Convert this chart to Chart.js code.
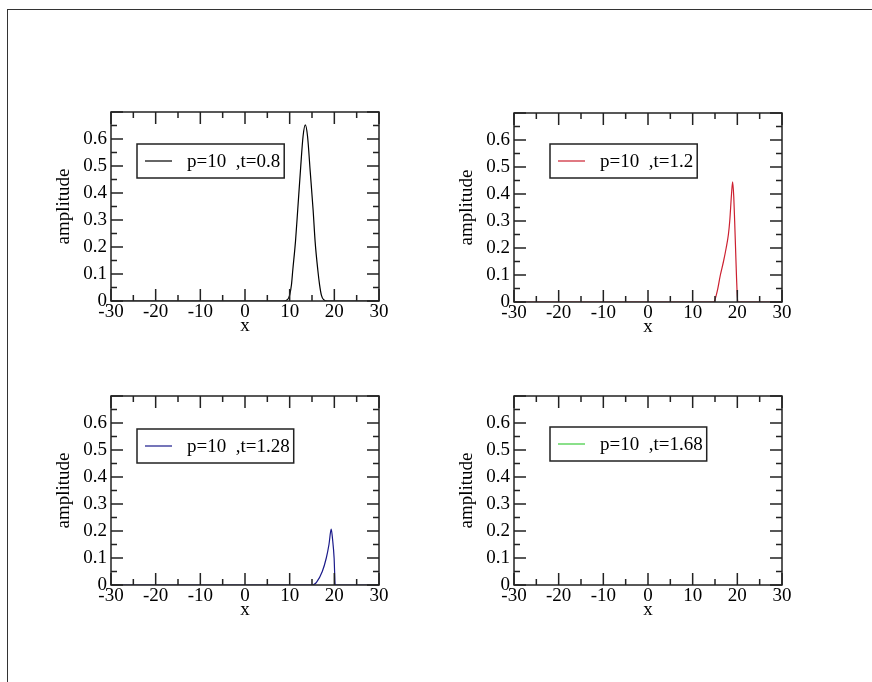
<!DOCTYPE html>
<html>
<head>
<meta charset="utf-8">
<script src="https://cdn.jsdelivr.net/npm/chart.js@4.4.1/dist/chart.umd.min.js"></script>
<style>
  html, body { margin: 0; padding: 0; background: #fff; }
  body { width: 872px; height: 682px; position: relative; overflow: hidden; }
  #frame { position: absolute; left: 7px; top: 9px; width: 900px; height: 700px;
           border-left: 1.5px solid #333; border-top: 1.5px solid #333; }
  canvas { position: absolute; }
</style>
</head>
<body>
<div id="frame"></div>
<canvas id="c1" width="420" height="345" style="left:0px;top:0px"></canvas>
<canvas id="c2" width="420" height="345" style="left:403px;top:1px"></canvas>
<canvas id="c3" width="420" height="345" style="left:0px;top:284px"></canvas>
<canvas id="c4" width="420" height="345" style="left:403px;top:284px"></canvas>
<script>
// axes
const xTicks = [-30, -20, -10, 0, 10, 20, 30];
const yTicks = [0, 0.1, 0.2, 0.3, 0.4, 0.5, 0.6, 0.7];

// legend labels and colours
const labels = ['p=10  ,t=0.8', 'p=10  ,t=1.2', 'p=10  ,t=1.28', 'p=10  ,t=1.68'];
const colors = ['#000000', '#cc2030', '#1a1a8a', '#3ccc3c'];

// curves
const x1 = [-30, 8.5, 9.5, 10.0, 10.4, 10.7, 11.3, 11.8, 12.4, 13.0, 13.5, 14.0, 14.6, 15.25, 15.7, 16.3, 16.7, 17.1, 17.6, 18.5, 30];
const y1 = [0, 0, 0.005, 0.022, 0.06, 0.115, 0.22, 0.337, 0.48, 0.61, 0.652, 0.61, 0.48, 0.337, 0.22, 0.115, 0.06, 0.022, 0.005, 0, 0];

const x2 = [-30, 14.7, 15.5, 16.2, 16.9, 17.5, 18.0, 18.3, 18.7, 18.95, 19.2, 19.4, 19.6, 19.8, 20.1, 30];
const y2 = [0, 0, 0.04, 0.1, 0.15, 0.2, 0.25, 0.3, 0.4, 0.445, 0.39, 0.3, 0.2, 0.1, 0, 0];

const x3 = [-30, 15.0, 16.0, 17.3, 18.2, 18.8, 19.3, 19.6, 19.95, 20.2, 30];
const y3 = [0, 0, 0.01, 0.05, 0.1, 0.15, 0.207, 0.17, 0.1, 0, 0];

// nothing visible in the last panel
const x4 = [];
const y4 = [];

Chart.defaults.font.family = '"Liberation Serif", "Times New Roman", serif';
Chart.defaults.font.size = 19;
Chart.defaults.color = '#000';

const FONT = '19px "Liberation Serif", "Times New Roman", serif';

// frame with inward ticks on all four sides, plus a boxed legend
const framePlugin = {
  id: 'xmFrame',
  afterDatasetsDraw(chart, args, opts) {
    const { ctx, chartArea: a, scales: { x, y } } = chart;
    ctx.save();
    ctx.strokeStyle = '#222';
    ctx.lineWidth = 1.5;
    ctx.strokeRect(a.left, a.top, a.right - a.left, a.bottom - a.top);
    ctx.beginPath();
    xTicks.forEach((v, i) => {
      let px = x.getPixelForValue(v);
      ctx.moveTo(px, a.bottom); ctx.lineTo(px, a.bottom - 12);
      ctx.moveTo(px, a.top); ctx.lineTo(px, a.top + 12);
      if (i < xTicks.length - 1) {
        px = x.getPixelForValue((v + xTicks[i + 1]) / 2);
        ctx.moveTo(px, a.bottom); ctx.lineTo(px, a.bottom - 6);
        ctx.moveTo(px, a.top); ctx.lineTo(px, a.top + 6);
      }
    });
    yTicks.forEach((v, i) => {
      let py = y.getPixelForValue(v);
      ctx.moveTo(a.left, py); ctx.lineTo(a.left + 12, py);
      ctx.moveTo(a.right, py); ctx.lineTo(a.right - 12, py);
      if (i < yTicks.length - 1) {
        py = y.getPixelForValue((v + yTicks[i + 1]) / 2);
        ctx.moveTo(a.left, py); ctx.lineTo(a.left + 6, py);
        ctx.moveTo(a.right, py); ctx.lineTo(a.right - 6, py);
      }
    });
    ctx.stroke();

    // legend box
    const ds = chart.data.datasets[0];
    ctx.font = FONT;
    const tw = ctx.measureText(ds.label).width;
    const bx = a.left + opts.dx, by = a.top + opts.dy, bh = 34;
    const bw = 8 + 27 + 15 + tw + 4;
    ctx.fillStyle = '#fff';
    ctx.fillRect(bx, by, bw, bh);
    ctx.strokeRect(bx, by, bw, bh);
    ctx.beginPath();
    ctx.strokeStyle = ds.borderColor;
    ctx.lineWidth = 1.2;
    ctx.moveTo(bx + 8, by + bh / 2);
    ctx.lineTo(bx + 35, by + bh / 2);
    ctx.stroke();
    ctx.fillStyle = '#000';
    ctx.textBaseline = 'middle';
    ctx.fillText(ds.label, bx + 50, by + bh / 2 + 1);
    ctx.restore();
  }
};

function makeChart(id, xs, ys, label, color, dx, dy) {
  new Chart(document.getElementById(id), {
    type: 'line',
    data: {
      datasets: [{
        label: label,
        data: xs.map((v, i) => ({ x: v, y: ys[i] })),
        borderColor: color,
        borderWidth: 1.2,
        pointRadius: 0,
        cubicInterpolationMode: 'monotone',
        fill: false
      }]
    },
    options: {
      responsive: false,
      animation: false,
      layout: { padding: { left: 53, top: 112, right: 41, bottom: 8 } },
      plugins: {
        legend: { display: false },
        tooltip: { enabled: false },
        xmFrame: { dx: dx, dy: dy }
      },
      scales: {
        x: {
          type: 'linear',
          min: -30, max: 30,
          afterBuildTicks: s => { s.ticks = xTicks.map(v => ({ value: v })); },
          afterFit: s => { s.height = 36; },
          ticks: { callback: v => String(v), padding: 0, maxRotation: 0 },
          grid: { display: false, drawTicks: false },
          border: { display: false },
          title: { display: true, text: 'x', padding: 0 }
        },
        y: {
          min: 0, max: 0.7,
          afterBuildTicks: s => { s.ticks = yTicks.map(v => ({ value: v })); },
          afterFit: s => { s.width = 58; },
          ticks: {
            callback: v => (v === 0 ? '0' : (v > 0.65 ? '' : v.toFixed(1))),
            padding: 4
          },
          grid: { display: false, drawTicks: false },
          border: { display: false },
          title: { display: true, text: 'amplitude', padding: 0 }
        }
      }
    },
    plugins: [framePlugin]
  });
}

makeChart('c1', x1, y1, labels[0], colors[0], 26, 32);
makeChart('c2', x2, y2, labels[1], colors[1], 36, 31);
makeChart('c3', x3, y3, labels[2], colors[2], 26, 33);
makeChart('c4', x4, y4, labels[3], colors[3], 36, 31);
</script>
</body>
</html>
